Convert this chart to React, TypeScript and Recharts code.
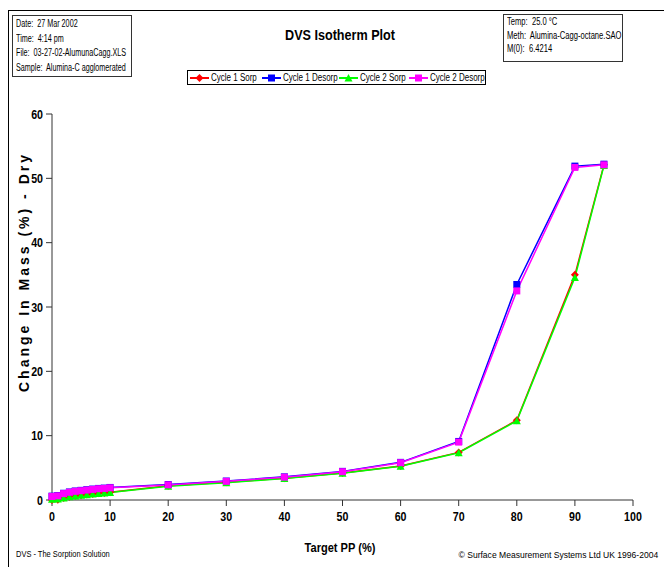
import { Line, LineChart, XAxis, YAxis } from "recharts";

const xTicks = [0, 10, 20, 30, 40, 50, 60, 70, 80, 90, 100];
const yTicks = [0, 10, 20, 30, 40, 50, 60];

const sorpPP = [0, 1, 2, 3, 4, 5, 6, 7, 8, 9, 10, 20, 30, 40, 50, 60, 70, 80, 90, 95];
const cycle1Sorp = [0, 0.05, 0.3, 0.5, 0.65, 0.75, 0.85, 0.95, 1.05, 1.1, 1.2, 2.2, 2.75, 3.4, 4.2, 5.3, 7.4, 12.4, 35.0, 52.1];
const cycle2Sorp = [0.1, 0.15, 0.3, 0.5, 0.62, 0.72, 0.82, 0.92, 1.0, 1.08, 1.15, 2.15, 2.7, 3.35, 4.15, 5.25, 7.35, 12.3, 34.6, 52.0];

const desorpPP = [95, 90, 80, 70, 60, 50, 40, 30, 20, 10, 9, 8, 7, 6, 5, 4, 3, 2, 1, 0];
const cycle1Desorp = [52.2, 51.9, 33.5, 9.1, 5.85, 4.45, 3.6, 2.95, 2.4, 1.95, 1.85, 1.8, 1.7, 1.6, 1.5, 1.4, 1.25, 1.05, 0.7, 0.6];
const cycle2Desorp = [52.1, 51.7, 32.5, 9.0, 5.8, 4.4, 3.55, 2.9, 2.35, 1.9, 1.8, 1.75, 1.65, 1.55, 1.45, 1.35, 1.2, 1.0, 0.65, 0.55];

const seriesNames = ["Cycle 1 Sorp", "Cycle 1 Desorp", "Cycle 2 Sorp", "Cycle 2 Desorp"];
const seriesColors = ["#ff0000", "#0000ff", "#00ff00", "#ff00ff"];
const seriesShapes = ["diamond", "square", "triangle", "square"];
const legendLeft = [190, 262, 339, 409];

const infoLeft = ["Date:  27 Mar 2002", "Time:  4:14 pm", "File:  03-27-02-AlumunaCagg.XLS", "Sample:  Alumina-C agglomerated"];
const infoRight = ["Temp:  25.0 °C", "Meth:  Alumina-Cagg-octane.SAO", "M(0):  6.4214"];

const toPoints = (xs: number[], ys: number[]) => xs.map((x, i) => ({ pp: x, mass: ys[i] }));

const sans = "'Liberation Sans', Arial, sans-serif";

function Narrow({ children, k = 0.8, origin = "left", style }: { children: any; k?: number; origin?: string; style?: any }) {
  return (
    <div style={{ whiteSpace: "pre", transform: `scaleX(${k})`, transformOrigin: origin, ...style }}>{children}</div>
  );
}

function Marker({ cx, cy, shape, color }: { cx?: number; cy?: number; shape: string; color: string }) {
  if (cx == null || cy == null) return null;
  if (shape === "diamond") {
    return <polygon points={`${cx},${cy - 4} ${cx + 4},${cy} ${cx},${cy + 4} ${cx - 4},${cy}`} fill={color} />;
  }
  if (shape === "triangle") {
    return <polygon points={`${cx},${cy - 4} ${cx + 4},${cy + 3.5} ${cx - 4},${cy + 3.5}`} fill={color} />;
  }
  return <rect x={cx - 3.5} y={cy - 3.5} width={7} height={7} fill={color} />;
}

function NarrowTick({ x, y, payload, textAnchor, shift }: any) {
  return (
    <text
      transform={`translate(${x},${y}) scale(0.82,1)`}
      textAnchor={textAnchor}
      dy={shift}
      fontFamily={sans}
      fontSize={13}
      fontWeight={700}
      fill="#000"
    >
      {payload.value}
    </text>
  );
}

const series = [
  { data: toPoints(sorpPP, cycle1Sorp), idx: 0 },
  { data: toPoints(desorpPP, cycle1Desorp), idx: 1 },
  { data: toPoints(sorpPP, cycle2Sorp), idx: 2 },
  { data: toPoints(desorpPP, cycle2Desorp), idx: 3 },
];

export default function App() {
  return (
    <div style={{ position: "absolute", left: 0, top: 0, width: 664, height: 567, background: "#fff", overflow: "hidden", fontFamily: sans }}>
      {/* outer frame */}
      <div style={{ position: "absolute", left: 8, top: 10, width: 700, height: 600, borderLeft: "1.5px solid #000", borderTop: "1.5px solid #000" }} />

      {/* info boxes */}
      <div style={{ position: "absolute", left: 12, top: 15, width: 120, height: 62, border: "1px solid #333", fontSize: 10, lineHeight: "14.6px", padding: "1px 0 0 3px", boxSizing: "border-box", overflow: "hidden" }}>
        {infoLeft.map((t) => (
          <Narrow key={t} k={0.72}>{t}</Narrow>
        ))}
      </div>
      <div style={{ position: "absolute", left: 503, top: 14, width: 120, height: 48, border: "1px solid #333", fontSize: 10, lineHeight: "13.5px", padding: "0 0 0 3px", boxSizing: "border-box", overflow: "hidden" }}>
        {infoRight.map((t) => (
          <Narrow key={t} k={0.76}>{t}</Narrow>
        ))}
      </div>

      <div style={{ position: "absolute", left: 240, top: 27, width: 200, textAlign: "center", fontWeight: 700, fontSize: 14 }}>
        <Narrow k={0.9} origin="center">DVS Isotherm Plot</Narrow>
      </div>

      {/* legend */}
      <div style={{ position: "absolute", left: 187, top: 70, width: 299, height: 15, border: "1px solid #000", boxSizing: "border-box" }} />
      {seriesNames.map((n, i) => (
        <div key={n} style={{ position: "absolute", left: legendLeft[i], top: 71, height: 13, display: "flex", alignItems: "center", fontSize: 10 }}>
          <svg width={19} height={10}>
            <line x1={0} y1={5} x2={19} y2={5} stroke={seriesColors[i]} strokeWidth={2} />
            <Marker cx={9.5} cy={5} shape={seriesShapes[i]} color={seriesColors[i]} />
          </svg>
          <Narrow k={0.8} style={{ marginLeft: 2 }}>{n}</Narrow>
        </div>
      ))}

      {/* y axis title */}
      <div style={{ position: "absolute", left: 24, top: 272, width: 0, height: 0 }}>
        <div style={{ position: "absolute", left: 0, top: 0, transform: "translate(-50%,-50%) rotate(-90deg)", whiteSpace: "nowrap", fontWeight: 700, fontSize: 14, letterSpacing: 3 }}>
          Change In Mass (%) - Dry
        </div>
      </div>

      <div style={{ position: "absolute", left: 0, top: 0 }}>
        <LineChart width={664} height={567} margin={{ top: 114, right: 31, left: 0, bottom: 37 }}>
          <XAxis
            dataKey="pp"
            type="number"
            domain={[0, 100]}
            ticks={xTicks}
            allowDuplicatedCategory={false}
            height={30}
            tick={<NarrowTick shift={10} />}
            tickSize={6}
            tickMargin={5}
            stroke="#333"
          />
          <YAxis
            dataKey="mass"
            type="number"
            domain={[0, 60]}
            ticks={yTicks}
            width={52}
            tick={<NarrowTick shift={4.5} />}
            tickSize={6}
            tickMargin={3}
            stroke="#333"
          />
          {series.map((s) => (
            <Line
              key={seriesNames[s.idx]}
              data={s.data}
              dataKey="mass"
              name={seriesNames[s.idx]}
              type="linear"
              stroke={seriesColors[s.idx]}
              strokeWidth={1.5}
              isAnimationActive={false}
              dot={(p: any) => <Marker key={`${s.idx}-${p.index}`} cx={p.cx} cy={p.cy} shape={seriesShapes[s.idx]} color={seriesColors[s.idx]} />}
              activeDot={false}
            />
          ))}
        </LineChart>
      </div>

      {/* x axis title and footer */}
      <div style={{ position: "absolute", left: 240, top: 540, width: 200, textAlign: "center", fontWeight: 700, fontSize: 13 }}>
        <Narrow k={0.85} origin="center">Target PP (%)</Narrow>
      </div>
      <div style={{ position: "absolute", left: 16, top: 549, fontSize: 9 }}>
        <Narrow k={0.83}>DVS - The Sorption Solution</Narrow>
      </div>
      <div style={{ position: "absolute", right: 6, top: 550, fontSize: 9 }}>
        <Narrow k={0.95} origin="right">© Surface Measurement Systems Ltd UK 1996-2004</Narrow>
      </div>
    </div>
  );
}
